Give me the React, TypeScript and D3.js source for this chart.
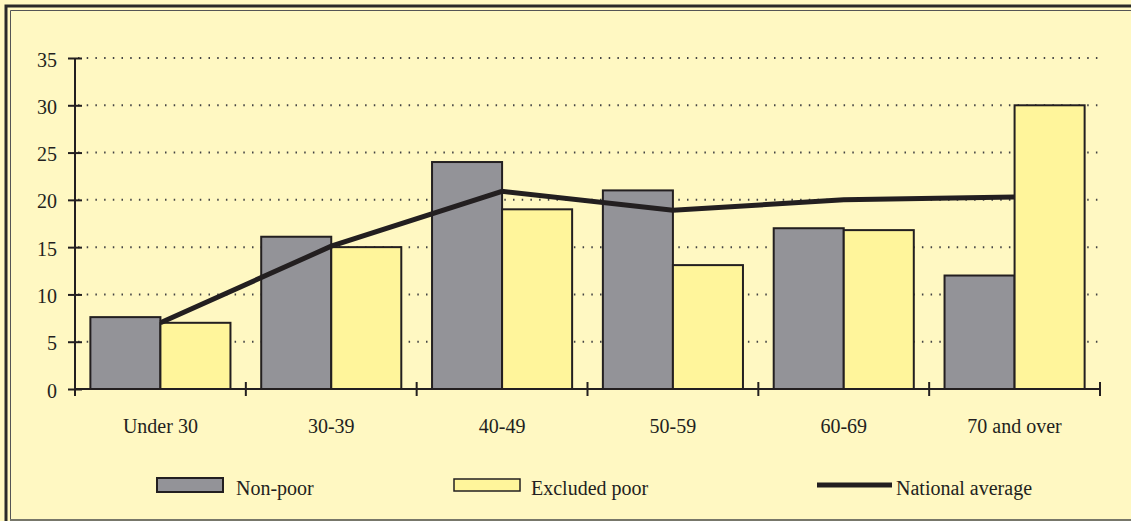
import { useEffect, useRef } from "react";
import * as d3 from "d3";

// Age groups along the x axis
const categories = ["Under 30", "30-39", "40-49", "50-59", "60-69", "70 and over"];
// Share (%) per age group
const nonPoor = [7.6, 16.1, 24.0, 21.0, 17.0, 12.0];
const excludedPoor = [7.0, 15.0, 19.0, 13.1, 16.8, 30.0];
const nationalAverage = [7.0, 15.1, 20.9, 18.9, 20.0, 20.3];
const yTicks = [0, 5, 10, 15, 20, 25, 30, 35];

const W = 1131;
const H = 521;
const BG = "#fff8c2";
const GREY = "#939398";
const YELLOW = "#fff59b";
const INK = "#231f20";
const FONT = "'Liberation Serif', 'DejaVu Serif', serif";
const FS = 20;

export default function App() {
    const svgRef = useRef<SVGSVGElement | null>(null);

    useEffect(() => {
        const svg = d3.select(svgRef.current!);
        svg.selectAll("*").remove();

        // frame: background plus double border on top/left
        svg.append("rect").attr("width", W).attr("height", H).attr("fill", BG);
        svg.append("path")
            .attr("d", `M6,${H} V6 H${W}`)
            .attr("fill", "none").attr("stroke", "#2a2a2a").attr("stroke-width", 3);
        svg.append("path")
            .attr("d", `M10.5,${H} V10.5 H${W}`)
            .attr("fill", "none").attr("stroke", "#555").attr("stroke-width", 1);
        svg.append("line")
            .attr("x1", 10).attr("x2", W).attr("y1", 520).attr("y2", 520)
            .attr("stroke", "#77776a").attr("stroke-width", 2);

        const left = 75, right = 1100, top = 58, bottom = 389;

        const x = d3.scaleBand<string>().domain(categories).range([left, right]).padding(0);
        const y = d3.scaleLinear().domain([0, 35]).range([bottom, top]);

        // dotted gridlines
        svg.append("g")
            .selectAll("line")
            .data(yTicks.filter((t) => t > 0))
            .join("line")
            .attr("x1", left + 3).attr("x2", 1104)
            .attr("y1", (d) => y(d)).attr("y2", (d) => y(d))
            .attr("stroke", "#444").attr("stroke-width", 2)
            .attr("stroke-dasharray", "1.5 7.2");

        // bars
        const barW = x.bandwidth() * 0.41;
        const groups = svg.append("g")
            .selectAll("g")
            .data(categories)
            .join("g");
        groups.append("rect")
            .attr("x", (d) => x(d)! + x.bandwidth() / 2 - barW)
            .attr("y", (_, i) => y(nonPoor[i]))
            .attr("width", barW)
            .attr("height", (_, i) => bottom - y(nonPoor[i]))
            .attr("fill", GREY).attr("stroke", INK).attr("stroke-width", 2);
        groups.append("rect")
            .attr("x", (d) => x(d)! + x.bandwidth() / 2)
            .attr("y", (_, i) => y(excludedPoor[i]))
            .attr("width", barW)
            .attr("height", (_, i) => bottom - y(excludedPoor[i]))
            .attr("fill", YELLOW).attr("stroke", INK).attr("stroke-width", 2);

        // national average line
        const line = d3.line<number>()
            .x((_, i) => x(categories[i])! + x.bandwidth() / 2)
            .y((d) => y(d));
        svg.append("path")
            .attr("d", line(nationalAverage)!)
            .attr("fill", "none").attr("stroke", INK).attr("stroke-width", 5)
            .attr("stroke-linejoin", "miter");

        // y axis
        const yAxis = svg.append("g").attr("transform", `translate(${left},0)`)
            .call(d3.axisLeft(y).tickValues(yTicks).tickSize(8).tickPadding(10));
        yAxis.selectAll("line").attr("stroke", INK).attr("stroke-width", 2).attr("x2", 7).attr("x1", -7);
        yAxis.select(".domain").attr("stroke", INK).attr("stroke-width", 2).attr("d", `M0,${top}V${bottom}`);
        yAxis.selectAll("text")
            .attr("font-family", FONT).attr("font-size", FS).attr("fill", INK).attr("dy", "0.4em");

        // x axis
        const xAxis = svg.append("g").attr("transform", `translate(0,${bottom})`);
        xAxis.append("line")
            .attr("x1", left).attr("x2", right)
            .attr("stroke", INK).attr("stroke-width", 2);
        xAxis.selectAll("line.tick")
            .data([...categories.map((c) => x(c)!), right])
            .join("line")
            .attr("class", "tick")
            .attr("x1", (d) => d).attr("x2", (d) => d)
            .attr("y1", -7).attr("y2", 7)
            .attr("stroke", INK).attr("stroke-width", 2);
        xAxis.selectAll("text")
            .data(categories)
            .join("text")
            .attr("x", (d) => x(d)! + x.bandwidth() / 2)
            .attr("y", 44)
            .attr("text-anchor", "middle")
            .attr("font-family", FONT).attr("font-size", FS).attr("fill", INK)
            .text((d) => d);

        // legend
        const legend = svg.append("g").attr("font-family", FONT).attr("font-size", FS).attr("fill", INK);
        legend.append("rect").attr("x", 157).attr("y", 478).attr("width", 66).attr("height", 14)
            .attr("fill", GREY).attr("stroke", INK).attr("stroke-width", 2);
        legend.append("text").attr("x", 236).attr("y", 495).text("Non-poor");
        legend.append("rect").attr("x", 454).attr("y", 479).attr("width", 66).attr("height", 12)
            .attr("fill", YELLOW).attr("stroke", INK).attr("stroke-width", 1.5);
        legend.append("text").attr("x", 531).attr("y", 495).text("Excluded poor");
        legend.append("line").attr("x1", 817).attr("x2", 892).attr("y1", 485).attr("y2", 485)
            .attr("stroke", INK).attr("stroke-width", 5);
        legend.append("text").attr("x", 896).attr("y", 495).text("National average");
    }, []);

    return (
        <svg
            ref={svgRef}
            width={W}
            height={H}
            style={{ position: "absolute", left: 0, top: 0, display: "block" }}
        />
    );
}
